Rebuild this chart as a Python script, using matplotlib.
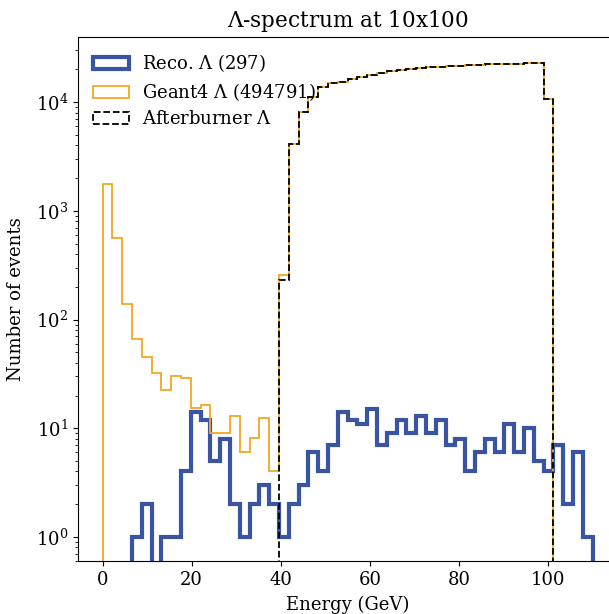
import numpy as np
import matplotlib
matplotlib.use("Agg")
import matplotlib.pyplot as plt

plt.rcParams['font.family'] = ['DejaVu Serif']
plt.rcParams['mathtext.fontset'] = 'dejavuserif'

# bin edges: 50 bins from 0 to 110 GeV
edges = np.linspace(0, 110, 51)
centers = 0.5 * (edges[:-1] + edges[1:])

reco = [0, 0, 0, 1, 2, 0, 1, 1, 4, 14,
        12, 5, 8, 2, 1, 2, 3, 2, 1, 2,
        3, 6, 4, 7, 14, 12, 11, 15, 7, 9,
        12, 9, 13, 9, 12, 7, 8, 4, 6, 8,
        6, 11, 6, 10, 5, 4, 7, 2, 6, 1]

geant4 = [1770, 560, 139, 66, 45, 32, 22.5, 30, 29, 15.2,
          16.2, 9.1, 9.1, 13, 6.1, 8.2, 12.3, 4.0, 257, 4090,
          8180, 11200, 13900, 14900, 15500, 16300, 17200, 17900, 18600, 19200,
          19800, 20300, 20600, 20900, 21200, 21500, 21700, 21900, 22100, 22300,
          22400, 22500, 22600, 22800, 22800, 10700, 0, 0, 0, 0]

afterburner = [0, 0, 0, 0, 0, 0, 0, 0, 0, 0,
               0, 0, 0, 0, 0, 0, 0, 0, 230, 4090,
               8180, 11200, 13900, 14900, 15500, 16300, 17200, 17900, 18600, 19200,
               19800, 20300, 20600, 20900, 21200, 21500, 21700, 21900, 22100, 22300,
               22400, 22500, 22600, 22800, 22800, 10700, 0, 0, 0, 0]

labels = ["Reco. $\\Lambda$ (297)", "Geant4 $\\Lambda$ (494791)", "Afterburner $\\Lambda$"]

fig = plt.figure(figsize=(6.09, 6.14), dpi=100)
ax = fig.add_axes([78/609, 1 - 561/614, 539/609, (561 - 37)/614])
ax.set_yscale('log')

_, _, p_reco = ax.hist(centers, bins=edges, weights=reco, histtype='step',
                       color='#3a54a4', linewidth=3, label=labels[0])
_, _, p_g4 = ax.hist(centers, bins=edges, weights=geant4, histtype='step',
                     color='#f5a623', linewidth=1.3, label=labels[1])
_, _, p_ab = ax.hist(centers, bins=edges, weights=afterburner, histtype='step',
                     color='black', linewidth=1.3, linestyle='--', label=labels[2])

ax.set_xlim(-5.5, 115.5)
ax.set_ylim(0.6, 39800)
ax.set_xticks([0, 20, 40, 60, 80, 100])
ax.tick_params(labelsize=13)
ax.set_xlabel("Energy (GeV)", fontsize=13, labelpad=5)
ax.set_ylabel("Number of events", fontsize=13, labelpad=8)
ax.set_title("$\\Lambda$-spectrum at 10x100", fontsize=15.5, pad=7)
ax.legend(handles=[p_reco[0], p_g4[0], p_ab[0]], loc='upper left', frameon=False,
          fontsize=13, handlelength=2.0, borderaxespad=0.45, labelspacing=0.4,
          handletextpad=0.7)

fig.savefig("out.png", dpi=100)
